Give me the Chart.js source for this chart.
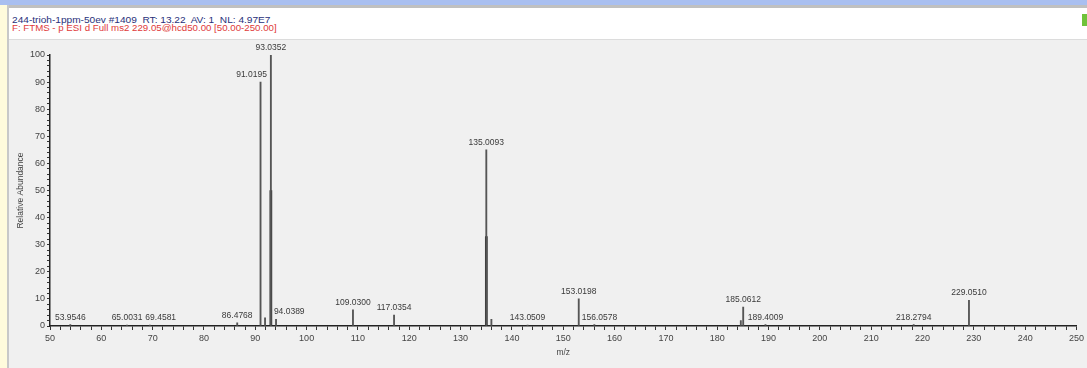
<!DOCTYPE html>
<html>
<head>
<meta charset="utf-8">
<script src="https://cdn.jsdelivr.net/npm/chart.js@4.4.1/dist/chart.umd.min.js"></script>
<style>
  html, body { margin: 0; padding: 0; }
  body { width: 1087px; height: 368px; background: #f0f0f0; position: relative; overflow: hidden;
         font-family: "Liberation Sans", Arial, sans-serif; }
  #topband { position: absolute; left: 0; top: 0; width: 1087px; height: 5px; background: #a9bff0; }
  #leftstrip { position: absolute; left: 0; top: 5px; width: 7px; height: 363px; background: #fffbdc; border-right: 2px solid #c8c8c8; }
  #header { position: absolute; left: 9px; top: 5px; width: 1078px; height: 31px; background: #fff;
            border-top: 3px solid #c0c0c0; border-bottom: 1px solid #dcdcdc; }
  #green { position: absolute; left: 1082px; top: 14px; width: 5px; height: 12px; background: #6fc23a; }
  .hdr { position: absolute; left: 12px; font-size: 8.5px; white-space: pre; transform-origin: 0 0; }
  #line1 { top: 15px; color: #28307a; transform: scaleX(1.19); }
  #line2 { top: 23px; color: #e03a3a; transform: scaleX(1.14); }
  canvas { position: absolute; left: 0; top: 0; }
</style>
</head>
<body>
<div id="topband"></div>
<div id="leftstrip"></div>
<div id="header"></div>
<div id="green"></div>
<div class="hdr" id="line1">244-trioh-1ppm-50ev #1409  RT: 13.22  AV: 1  NL: 4.97E7</div>
<div class="hdr" id="line2">F: FTMS - p ESI d Full ms2 229.05@hcd50.00 [50.00-250.00]</div>
<canvas id="spectrum" width="1087" height="368"></canvas>
<script>
// centroid peaks: m/z and relative abundance (%)
const peakMz = [53.9546, 65.0031, 69.4581, 86.4768, 91.0195, 91.9, 93.0352, 94.0389,
  109.0300, 117.0354, 135.0093, 136.0, 143.0509, 153.0198, 156.0578,
  184.6, 185.0612, 189.4009, 218.2794, 229.0510];
const peakInt = [0.5, 0.3, 0.3, 1.2, 90, 3, 100, 2.5,
  6, 4, 65, 2.5, 0.3, 10, 0.5,
  2, 7, 0.5, 0.5, 9.5];

// darker, overlapping lower parts of the two big peaks
const overlapMz = [93.0352, 135.0093];
const overlapInt = [50, 33];

// peaks that carry an m/z label
const labelMz = [53.9546, 65.0031, 69.4581, 86.4768, 91.0195, 93.0352, 94.0389,
  109.0300, 117.0354, 135.0093, 143.0509, 153.0198, 156.0578,
  185.0612, 189.4009, 218.2794, 229.0510];

const xTicks = [50, 60, 70, 80, 90, 100, 110, 120, 130, 140, 150, 160, 170, 180, 190, 200, 210, 220, 230, 240, 250];
const yTicks = [0, 10, 20, 30, 40, 50, 60, 70, 80, 90, 100];

const font = "Liberation Sans";

// labels sit above their peak, nudged aside when a taller line or an earlier label is in the way
const peakLabels = {
  id: "peakLabels",
  afterDatasetsDraw(chart) {
    const { ctx, scales: { x, y } } = chart;
    ctx.save();
    ctx.font = "8.5px " + font;
    ctx.fillStyle = "#3a3a3a";
    ctx.textBaseline = "bottom";
    const placed = [];
    labelMz.forEach(mz => {
      const i = peakMz.indexOf(mz);
      const px = x.getPixelForValue(mz);
      const bottom = y.getPixelForValue(peakInt[i]) - 3;
      const w = ctx.measureText(mz.toFixed(4)).width;
      let left = px - w / 2;
      peakMz.forEach((m, j) => {
        if (j === i || peakInt[j] <= peakInt[i]) return;
        const bx = x.getPixelForValue(m);
        const by = y.getPixelForValue(peakInt[j]);
        if (by < bottom && bx > left - 2 && bx < left + w + 2) {
          left = bx > px ? bx - 4 - w : bx + 3;
        }
      });
      placed.forEach(b => {
        if (Math.abs(b.bottom - bottom) < 9 && left < b.right + 3 && left + w > b.left) left = b.right + 3;
      });
      ctx.fillText(mz.toFixed(4), left, bottom);
      placed.push({ left, right: left + w, bottom });
    });
    ctx.restore();
  }
};

new Chart(document.getElementById("spectrum"), {
  type: "bar",
  data: {
    datasets: [
      {
        data: peakMz.map((m, i) => ({ x: m, y: peakInt[i] })),
        backgroundColor: "#555",
        barThickness: 1.2,
      },
      {
        data: overlapMz.map((m, i) => ({ x: m, y: overlapInt[i] })),
        backgroundColor: "#222",
        barThickness: 2,
      },
    ],
  },
  options: {
    responsive: false,
    animation: false,
    grouped: false,
    layout: { padding: { left: 14, right: 10, top: 55, bottom: 0 } },
    plugins: { legend: { display: false }, tooltip: { enabled: false } },
    scales: {
      x: {
        type: "linear",
        min: 50,
        max: 250,
        offset: false,
        afterBuildTicks(scale) {
          const t = [];
          for (let v = 50; v <= 250; v += 2) t.push({ value: v });
          scale.ticks = t;
        },
        afterFit(scale) { scale.height = 42; },
        border: { display: true, color: "#222", width: 1.5 },
        grid: { offset: false, drawOnChartArea: false, tickLength: 4, tickColor: "#333", tickWidth: 1 },
        ticks: {
          autoSkip: false,
          maxRotation: 0,
          padding: 3,
          color: "#444",
          font: { family: font, size: 9 },
          callback: v => (xTicks.includes(v) ? String(v) : ""),
        },
        title: { display: true, text: "m/z", color: "#444", font: { family: font, size: 8.5 }, padding: { top: 0, bottom: 10 } },
      },
      y: {
        min: 0,
        max: 100,
        afterBuildTicks(scale) {
          const t = [];
          for (let v = 0; v <= 100; v += 2) t.push({ value: v });
          scale.ticks = t;
        },
        afterFit(scale) { scale.width = 36; },
        border: { display: true, color: "#222", width: 1.5 },
        grid: { drawOnChartArea: false, tickLength: 3, tickColor: "#333", tickWidth: 1 },
        ticks: {
          autoSkip: false,
          padding: 2,
          color: "#444",
          font: { family: font, size: 9 },
          callback: v => (yTicks.includes(v) ? String(v) : ""),
        },
        title: { display: true, text: "Relative Abundance", color: "#444", font: { family: font, size: 8.5 }, padding: 2 },
      },
    },
  },
  plugins: [peakLabels],
});
</script>
</body>
</html>
